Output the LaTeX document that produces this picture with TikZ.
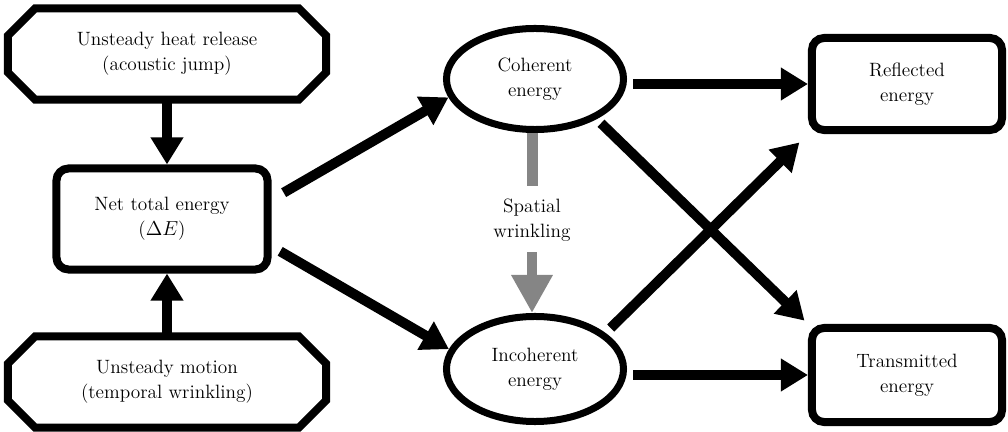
\documentclass[tikz,border=0pt]{standalone}
\usepackage{xcolor}
\usepackage{tikz}
\usetikzlibrary{arrows.meta,calc,shapes.geometric}
\definecolor{wrinklegray}{HTML}{858585}

\begin{document}
\begin{tikzpicture}[x=0.025cm,y=-0.025cm,
    txt/.style={align=center,font=\fontsize{13.7}{18}\selectfont},
    octbox/.style={txt,rectangle,outer sep=0pt,inner sep=0pt,minimum width=7.95cm,minimum height=2.275cm},
    boxline/.style={line width=0.2cm,line join=miter},
    roundbox/.style={txt,draw,line width=0.2cm,rounded corners=0.3cm,rectangle},
    energyell/.style={txt,draw,line width=0.175cm,ellipse,inner sep=0pt,minimum width=4.425cm},
    flow/.style={line width=0.25cm,-{Triangle[length=0.675cm,width=0.775cm]}},
    wrinkle/.style={line width=0.25cm,wrinklegray}]
    \useasboundingbox (0,0) rectangle (1008,432);
    % sources on the left
    \node[octbox] (heat) at (167,54) {Unsteady heat release\\(acoustic jump)};
    \node[roundbox,minimum width=5.275cm,minimum height=2.525cm] (net) at (162,219) {Net total energy\\($\Delta E$)};
    \node[octbox] (motion) at (167,382) {Unsteady motion\\(temporal wrinkling)};
    \foreach \oct in {heat,motion}
      \draw[boxline] ($(\oct.north west)+(27,0)$) -- ($(\oct.north east)+(-27,0)$) -- ($(\oct.north east)+(0,27)$)
        -- ($(\oct.south east)+(0,-27)$) -- ($(\oct.south east)+(-27,0)$) -- ($(\oct.south west)+(27,0)$)
        -- ($(\oct.south west)+(0,-27)$) -- ($(\oct.north west)+(0,27)$) -- cycle;
    % coherent / incoherent parts
    \node[energyell,minimum height=2.525cm] (coh) at (535,79) {Coherent\\energy};
    \node[energyell,minimum height=2.625cm] (inc) at (535,369) {Incoherent\\energy};
    \node[txt] (spatial) at (532,220) {Spatial\\wrinkling};
    % outputs on the right
    \node[roundbox,minimum width=4.75cm,minimum height=2.3cm] (refl) at (907,84) {Reflected\\energy};
    \node[roundbox,minimum width=4.75cm,minimum height=2.35cm] (trans) at (907,375) {Transmitted\\energy};
    % connectors
    \draw[flow] (heat.south) -- (heat.south |- net.north);
    \draw[flow] (motion.north) -- (motion.north |- net.south);
    \draw[flow,shorten <=0.35cm] (net.10) -- (coh.192);
    \draw[flow,shorten <=0.25cm] (net.-14) -- (inc.167);
    \draw[flow,shorten <=0.15cm] (coh.east |- refl.west) -- (refl.west);
    \draw[flow,shorten <=0.15cm,shorten >=0.12cm] (coh.-33) -- (trans.north west);
    \draw[flow,shorten <=0.18cm,shorten >=0.3cm] (inc.27) -- (refl.south west);
    \draw[flow,shorten <=0.15cm] (inc.east |- trans.west) -- (trans.west);
    \draw[wrinkle,line width=0.275cm,shorten >=0.2cm] (spatial.north |- coh.south) -- (spatial.north);
    \draw[wrinkle,-{Triangle[length=0.95cm,width=0.975cm]},shorten <=0.15cm] (spatial.south) -- (spatial.south |- inc.north);
  \end{tikzpicture}
\end{document}
